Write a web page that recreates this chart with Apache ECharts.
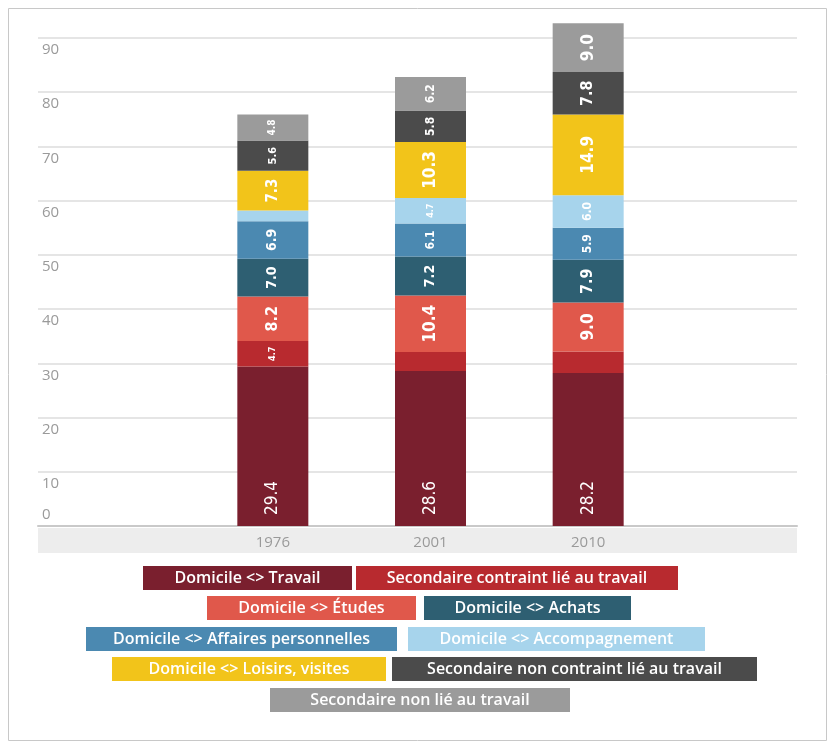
<!DOCTYPE html>
<html>
<head>
<meta charset="utf-8">
<script src="https://cdn.jsdelivr.net/npm/echarts@6/dist/echarts.min.js"></script>
<style>
  html, body { margin: 0; padding: 0; background: #fff; }
  #chart { width: 831px; height: 747px; }
</style>
</head>
<body>
<div id="chart"></div>
<script>
// Déplacements quotidiens par motif (en millions), par année d'enquête
const years = ['1976', '2001', '2010'];
const yTicks = [0, 10, 20, 30, 40, 50, 60, 70, 80, 90];

const travail          = [29.4, 28.6, 28.2];
const secContraint     = [4.7, 3.5, 4.0];
const etudes           = [8.2, 10.4, 9.0];
const achats           = [7.0, 7.2, 7.9];
const affaires         = [6.9, 6.1, 5.9];
const accompagnement   = [2.0, 4.7, 6.0];
const loisirs          = [7.3, 10.3, 14.9];
const secNonContraint  = [5.6, 5.8, 7.8];
const secNonLie        = [4.8, 6.2, 9.0];

const seriesNames = [
  'Domicile <> Travail',
  'Secondaire contraint lié au travail',
  'Domicile <> Études',
  'Domicile <> Achats',
  'Domicile <> Affaires personnelles',
  'Domicile <> Accompagnement',
  'Domicile <> Loisirs, visites',
  'Secondaire non contraint lié au travail',
  'Secondaire non lié au travail'
];
const seriesValues = [travail, secContraint, etudes, achats, affaires,
                      accompagnement, loisirs, secNonContraint, secNonLie];
const seriesColors = ['#7a1f2e', '#b82a2f', '#e0584b', '#2e5f72', '#4b89b1',
                      '#a7d4ec', '#f2c41a', '#4b4b4b', '#9b9b9b'];

// Legend boxes: [row top, left, right]
const legendBoxes = [
  [566, 143, 352], [566, 356, 678],
  [596, 207, 416], [596, 424, 631],
  [627, 86, 397],  [627, 408, 705],
  [657, 112, 386], [657, 392, 757],
  [688, 270, 570]
];

const labelFont = "'Liberation Sans Narrow', 'DejaVu Sans Condensed', sans-serif";
const uiFont = "'Open Sans', 'Noto Sans', sans-serif";

function segmentData(vals, isBase) {
  return vals.map(v => ({
    value: v,
    label: isBase ? {} : {
      show: v >= 4.5,
      fontSize: Math.min(17, Math.round(v * 2.0))
    }
  }));
}

const barSeries = seriesNames.map((name, i) => ({
  name: name,
  type: 'bar',
  stack: 'total',
  xAxisIndex: 1,
  yAxisIndex: 1,
  barWidth: 71,
  itemStyle: { color: seriesColors[i] },
  label: i === 0 ? {
    show: true,
    position: 'insideBottom',
    rotate: 90,
    align: 'left',
    verticalAlign: 'middle',
    distance: 11,
    color: '#fff',
    fontFamily: labelFont,
    fontSize: 17,
    formatter: p => p.value.toFixed(1)
  } : {
    show: true,
    position: 'inside',
    rotate: 90,
    color: '#fff',
    fontFamily: labelFont,
    fontWeight: 'bold',
    formatter: p => p.value.toFixed(1)
  },
  data: segmentData(seriesValues[i], i === 0)
}));

const legendGraphics = [];
seriesNames.forEach((name, i) => {
  const [top, l, r] = legendBoxes[i];
  legendGraphics.push({
    type: 'rect',
    shape: { x: l, y: top, width: r - l, height: 24 },
    style: { fill: seriesColors[i] },
    silent: true
  });
  legendGraphics.push({
    type: 'text',
    x: (l + r) / 2,
    y: top + 12,
    style: {
      text: name,
      fill: '#fff',
      font: "600 16px " + uiFont,
      align: 'center',
      verticalAlign: 'middle'
    },
    silent: true
  });
});

const yMax = 97;

const chart = echarts.init(document.getElementById('chart'), null, { renderer: 'canvas' });
chart.setOption({
  animation: false,
  backgroundColor: '#fff',
  grid: [
    { left: 38, right: 34, top: 0, bottom: 221 },
    { left: 194, right: 164, top: 0, bottom: 221 }
  ],
  xAxis: [
    {
      gridIndex: 0, type: 'value', min: 0, max: 1,
      axisLine: { show: true, lineStyle: { color: '#c9c9c9', width: 2 } },
      axisTick: { show: false }, axisLabel: { show: false }, splitLine: { show: false }
    },
    {
      gridIndex: 1, type: 'category', data: years,
      axisLine: { show: false }, axisTick: { show: false },
      axisLabel: { color: '#9a9a9a', fontFamily: uiFont, fontSize: 15, margin: 9 }
    }
  ],
  yAxis: [
    {
      gridIndex: 0, type: 'value', min: 0, max: yMax, interval: 10,
      axisLine: { show: false }, axisTick: { show: false },
      splitLine: { showMaxLine: false, lineStyle: { color: '#dcdcdc', width: 1.5 } },
      axisLabel: {
        inside: true, margin: 4, color: '#9a9a9a', fontFamily: uiFont, fontSize: 15,
        showMaxLabel: false,
        formatter: v => yTicks.indexOf(v) < 0 ? '' : (v === 0 ? '{z|0}' : '{n|' + v + '}'),
        rich: {
          n: { padding: [24, 0, 0, 0], color: '#9a9a9a', fontFamily: uiFont, fontSize: 15 },
          z: { padding: [0, 0, 22, 0], color: '#9a9a9a', fontFamily: uiFont, fontSize: 15 }
        }
      }
    },
    {
      gridIndex: 1, type: 'value', min: 0, max: yMax, interval: 10, show: false,
      splitLine: { show: false }
    }
  ],
  graphic: [
    {
      type: 'rect',
      shape: { x: 38, y: 528, width: 759, height: 25 },
      style: { fill: '#ededed' },
      silent: true, z: -1
    },
    {
      type: 'rect',
      shape: { x: 8.5, y: 8.5, width: 818, height: 732 },
      style: { fill: null, stroke: '#c8c8c8', lineWidth: 1 },
      silent: true
    }
  ].concat(legendGraphics),
  series: barSeries
});
</script>
</body>
</html>
